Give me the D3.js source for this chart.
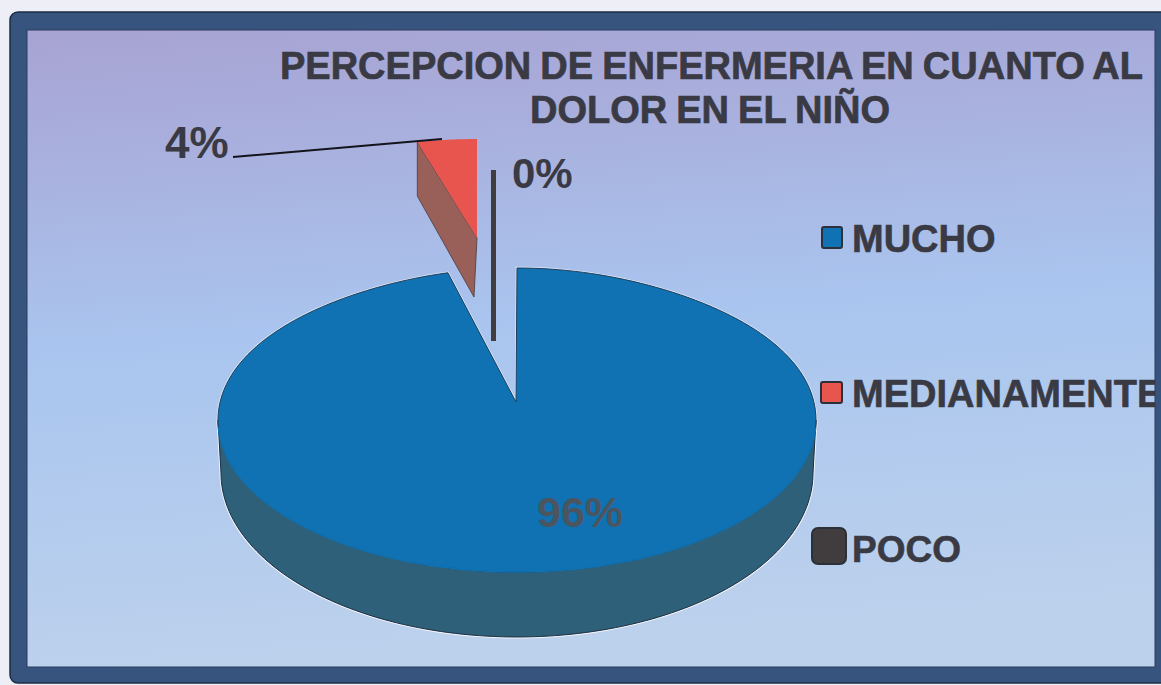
<!DOCTYPE html>
<html><head><meta charset="utf-8">
<script src="https://cdn.jsdelivr.net/npm/d3@7/dist/d3.min.js"></script>
<style>html,body{margin:0;padding:0;background:#eeeef6;overflow:hidden}svg{display:block}text{font-family:"Liberation Sans",Arial,sans-serif;font-weight:bold}</style>
</head><body><svg id="c" width="1161" height="685"></svg>
<script>
const categories = ["MUCHO","MEDIANAMENTE","POCO"];
const values = [96,4,0];
const titleLines = ["PERCEPCION DE ENFERMERIA EN CUANTO AL","DOLOR EN EL NIÑO"];
const topColors = ["#1072b2","#e8544e","#413c3e"];
const sideColors = ["#2f6079","#99605a","#413c3e"];

const svg = d3.select("#c");
const defs = svg.append("defs");
const g = defs.append("linearGradient").attr("id","bg").attr("x1","0").attr("y1","0").attr("x2","0.12").attr("y2","1");
[[0,"#a7a3d3"],[0.22,"#a9b1de"],[0.5,"#a9c5ef"],[1,"#bcd1ec"]].forEach(d=>g.append("stop").attr("offset",d[0]).attr("stop-color",d[1]));

// page + frame
svg.append("rect").attr("width",1161).attr("height",685).attr("fill","#eeeef6");
svg.append("rect").attr("x",10).attr("y",12).attr("width",1170).attr("height",671).attr("rx",8)
   .attr("fill","#37547f").attr("stroke","#1c2c44").attr("stroke-width",1.5);
svg.append("rect").attr("x",27).attr("y",30).attr("width",1128).attr("height",637).attr("fill","url(#bg)")
   .attr("stroke","#2a3c5c").attr("stroke-width",1);

const pie = d3.pie().sort(null).value(d=>d)(values);
const lineGen = d3.line().x(d=>d[0]).y(d=>d[1]);

// projected ellipse geometry per slice
const main = {cx:517,cy:420,rx:299,ry:152,ax:516,ay:402,persp:0.08};
const base = {cx:517,cy:473,rx:296,ry:164,persp:0};
const red  = {cx:477,cy:238,rx:240,ry:99,ax:477,ay:238,depth:57,persp:0};
const rim = (p,a)=>{const c=Math.cos(a);const k=1-p.persp*Math.pow(Math.max(0,c),4);
  return [p.cx+p.rx*Math.sin(a)*k,p.cy-p.ry*c];};
const arcPts = (p,a0,a1,n=120)=>d3.range(n+1).map(i=>rim(p,a0+(a1-a0)*i/n));

const s0 = pie[0];
const wallPoly = arcPts(main,Math.PI/2,3*Math.PI/2).concat(arcPts(base,3*Math.PI/2,Math.PI/2));
const topD = lineGen([[main.ax,main.ay],...arcPts(main,s0.startAngle,s0.endAngle,200)])+"Z";
// white scan halo under everything
svg.append("path").attr("d",topD).attr("fill","none").attr("stroke","#fff").attr("stroke-width",2.5).attr("stroke-opacity",.6);
svg.append("path").attr("d",lineGen(wallPoly)+"Z").attr("fill",sideColors[0])
   .attr("stroke","#fff").attr("stroke-width",3).attr("stroke-opacity",.8);
// blue slice: outer wall
svg.append("path").attr("d",lineGen(wallPoly)+"Z").attr("fill",sideColors[0])
   .attr("stroke","#1d2f44").attr("stroke-width",1);
// blue slice: top
svg.append("path").attr("d",topD).attr("fill",topColors[0]).attr("stroke","#1d3f5c").attr("stroke-width",1);
// repaint the front rim without its dark outline
svg.append("path").attr("d",lineGen(arcPts(main,Math.PI/2+.05,3*Math.PI/2-.05))).attr("fill","none")
   .attr("stroke",topColors[0]).attr("stroke-width",1.6);

// red slice: cut wall then top
const s1 = pie[1];
const r0 = rim(red,s1.startAngle);
svg.append("path").attr("d",lineGen([r0,[red.ax,red.ay],[red.ax-3,red.ay+red.depth+2],[r0[0],r0[1]+red.depth-3]])+"Z")
   .attr("fill",sideColors[1]).attr("stroke","#4a3a3a").attr("stroke-width",.8);
svg.append("path").attr("d",lineGen([[red.ax,red.ay],...arcPts(red,s1.startAngle,s1.endAngle,30)])+"Z")
   .attr("fill",topColors[1]);

// zero slice: only an edge
svg.append("line").attr("x1",493.5).attr("y1",170).attr("x2",493.5).attr("y2",341)
   .attr("stroke",topColors[2]).attr("stroke-width",5);

// leader
svg.append("line").attr("x1",233).attr("y1",157).attr("x2",442).attr("y2",139).attr("stroke","#14141c").attr("stroke-width",2);

// title
const ink="#3a3a44";
[[79,711.5,titleLines[0]],[123,710,titleLines[1]]].forEach(d=>{
  svg.append("text").attr("x",d[1]).attr("y",d[0]).attr("text-anchor","middle").attr("font-size",38)
     .attr("word-spacing",-1.5).attr("fill",ink).attr("stroke",ink).attr("stroke-width",.7).text(d[2]);
});

// data labels
const fmt = v=>v+"%";
[[1,165,158,44],[2,512,188,42],[0,537,527,43]].forEach(d=>{
  svg.append("text").attr("x",d[1]).attr("y",d[2]).attr("font-size",d[3])
     .attr("fill",d[0]===0?"#4a5560":ink).text(fmt(values[d[0]]));
});

// legend
const legend=[[822,227,20,21,252,38,852,2],[821,382,21,21,407,38,852,2],[812,528,34,36,562,37,852,6]];
const clip=defs.append("clipPath").attr("id","cl");
clip.append("rect").attr("x",0).attr("y",0).attr("width",1155).attr("height",685);
categories.forEach((c,i)=>{
  const L=legend[i];
  svg.append("rect").attr("x",L[0]).attr("y",L[1]).attr("width",L[2]).attr("height",L[3]).attr("rx",L[7])
     .attr("fill",topColors[i]).attr("stroke","#2c3038").attr("stroke-width",2);
  svg.append("text").attr("x",L[6]).attr("y",L[4]).attr("font-size",L[5]).attr("fill",ink)
     .attr("stroke",ink).attr("stroke-width",.6).attr("clip-path","url(#cl)").text(c);
});
</script></body></html>
